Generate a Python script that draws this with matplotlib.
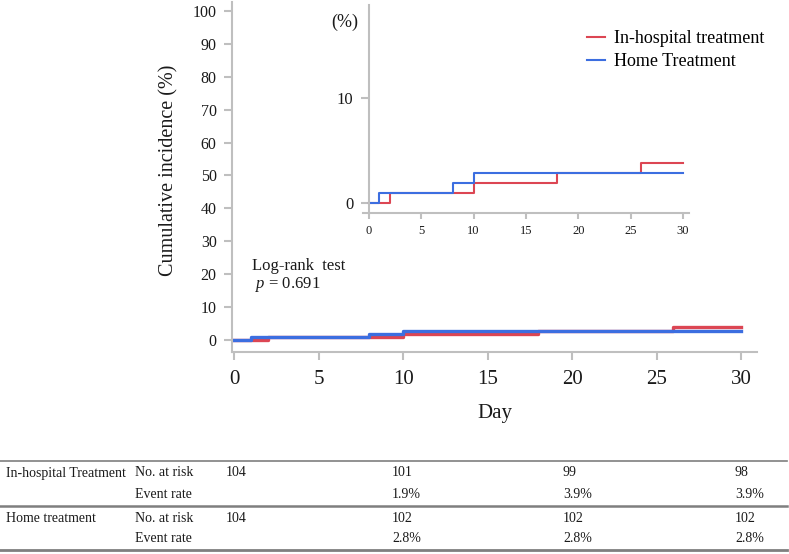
import matplotlib
matplotlib.use("Agg")
import matplotlib.pyplot as plt
from matplotlib.lines import Line2D

plt.rcParams["font.family"] = ["Liberation Serif", "DejaVu Serif"]
plt.rcParams["mathtext.fontset"] = "custom"
plt.rcParams["mathtext.rm"] = "Liberation Serif"
plt.rcParams["mathtext.it"] = "Liberation Serif:italic"

# Kaplan-Meier style cumulative incidence (%), step after each event day
hosp_days = [0, 2, 10, 18, 26, 30]
hosp_inc = [0, 0.96, 1.92, 2.88, 3.85, 3.85]
home_days = [0, 1, 8, 10, 30]
home_inc = [0, 0.96, 1.92, 2.88, 2.88]

hosp_label = "In-hospital treatment"
home_label = "Home Treatment"

# table under the plot
table_groups = ["In-hospital Treatment", "Home treatment"]
table_rows = ["No. at risk", "Event rate"]
hosp_risk = ["104", "101", "99", "98"]
hosp_rate = ["", "1.9%", "3.9%", "3.9%"]
home_risk = ["104", "102", "102", "102"]
home_rate = ["", "2.8%", "2.8%", "2.8%"]

RED = "#DC4653"
BLUE = "#3C6EE0"
SPINE = "#BFBFBF"
TXT = "#1a1a1a"

W, H = 789, 554
fig = plt.figure(figsize=(W / 100, H / 100), dpi=100)


def px_axes(left, top, right, bottom):
    return fig.add_axes([left / W, 1 - bottom / H, (right - left) / W, (bottom - top) / H])


def style(ax):
    for s in ("top", "right"):
        ax.spines[s].set_visible(False)
    for s in ("left", "bottom"):
        ax.spines[s].set_color(SPINE)
        ax.spines[s].set_linewidth(1.5)
    ax.tick_params(colors=SPINE, labelcolor=TXT, width=1.5)
    ax.patch.set_alpha(0)


# main plot
ax = px_axes(232, 2, 757, 352)
style(ax)
ax.step(hosp_days, hosp_inc, where="post", color=RED, lw=2.4)
ax.step(home_days, home_inc, where="post", color=BLUE, lw=2.4)
ax.set_xlim(-0.14, 30.95)
ax.set_ylim(-3.65, 102.7)
ax.set_xticks(range(0, 31, 5))
ax.set_yticks(range(0, 101, 10))
ax.tick_params(axis="x", length=6, labelsize=15, pad=7)
ax.tick_params(axis="y", length=6, labelsize=11.5, pad=5)
ax.set_xlabel("Day", fontsize=15, color=TXT, labelpad=11)
ax.set_ylabel("Cumulative incidence (%)", fontsize=14.5, color=TXT)
ax.yaxis.set_label_coords(-0.101, 0.52)
ax.text(1.05, 22.6, "Log-rank  test", fontsize=12, color=TXT, va="center")
ax.text(1.2, 17.0, "$p$ = 0.691", fontsize=12, color=TXT, va="center")

# zoomed inset
ins = px_axes(363, 5, 689, 213)
style(ins)
ins.step(hosp_days, hosp_inc, where="post", color=RED, lw=1.5)
ins.step(home_days, home_inc, where="post", color=BLUE, lw=1.5)
ins.set_xlim(-0.55, 30.57)
ins.set_ylim(-0.95, 18.86)
ins.spines["left"].set_position(("data", 0))
ins.set_xticks(range(0, 31, 5))
ins.set_yticks([0, 10])
ins.tick_params(axis="x", length=4, labelsize=9, pad=5)
ins.tick_params(axis="y", length=6, labelsize=12, pad=5)
ins.text(-1.0, 17.2, "(%)", fontsize=13, color=TXT, ha="right", va="center")
ins.legend(
    handles=[Line2D([], [], color=RED, lw=1.5), Line2D([], [], color=BLUE, lw=1.5)],
    labels=[hosp_label, home_label],
    loc="upper left",
    bbox_to_anchor=(587 / W, 1 - 30 / H),
    bbox_transform=fig.transFigure,
    frameon=False,
    fontsize=13,
    handlelength=1.0,
    handletextpad=0.5,
    labelspacing=0.35,
    borderpad=0,
    borderaxespad=0,
)

# number-at-risk table drawn in pixel coordinates
tab = fig.add_axes([0, 0, 1, 1])
tab.set_xlim(0, W)
tab.set_ylim(H, 0)
tab.axis("off")
tab.patch.set_alpha(0)

for y, lw in [(461, 1.2), (506, 1.8), (550, 2.0)]:
    tab.plot([0, 787], [y, y], color="#7f7f7f", lw=lw)

col_x = [226, 392, 563, 735]
row_y = [473, 494, 519, 539]
rows = [hosp_risk, hosp_rate, home_risk, home_rate]
for i, vals in enumerate(rows):
    y = row_y[i]
    if i % 2 == 0:
        tab.text(6, y, table_groups[i // 2], fontsize=10, color=TXT, va="center")
    tab.text(135, y, table_rows[i % 2], fontsize=10, color=TXT, va="center")
    for x, v in zip(col_x, vals):
        tab.text(x, y, v, fontsize=10, color=TXT, va="center")

fig.savefig("out.png", dpi=100)
